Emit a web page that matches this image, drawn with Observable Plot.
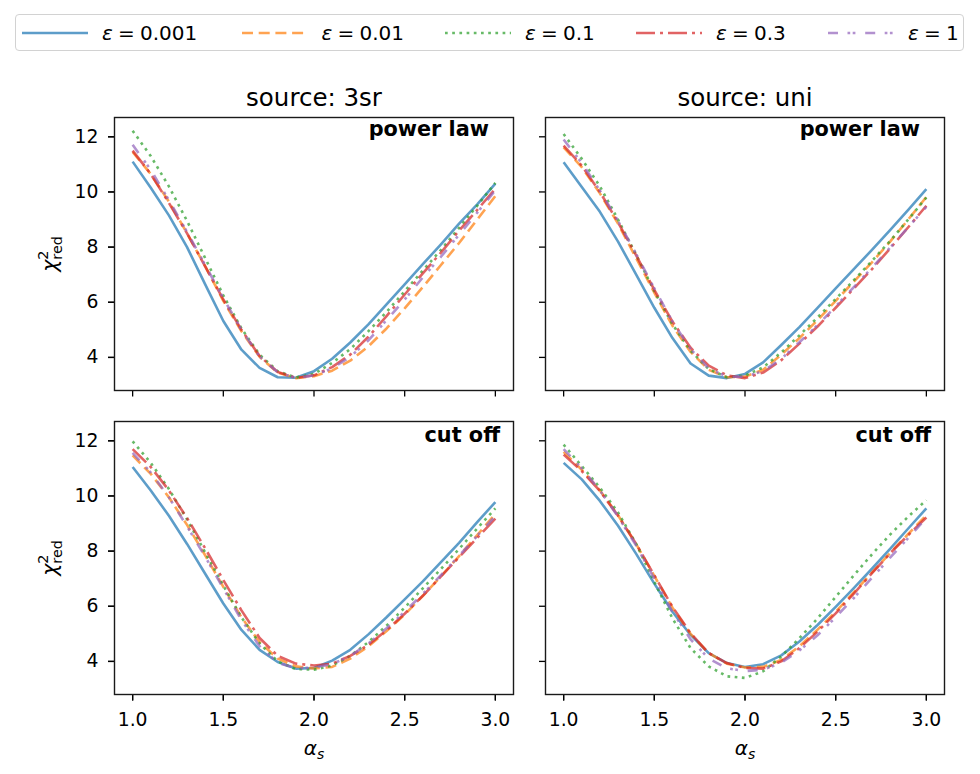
<!DOCTYPE html>
<html><head><meta charset="utf-8">
<script src="https://cdn.jsdelivr.net/npm/d3@7"></script>
<script src="https://cdn.jsdelivr.net/npm/@observablehq/plot@0.6"></script>
<style>
body{margin:0;background:#fff;font-family:"DejaVu Sans",sans-serif;}
#legend{position:relative;width:980px;height:62px;}
#legend .box{position:absolute;left:15px;top:14px;width:949px;height:37px;border:1.3px solid #d2d2d2;border-radius:4px;box-sizing:border-box;}
.item{position:absolute;top:14px;height:37px;display:flex;align-items:center;font-size:20px;color:#000;white-space:nowrap;}
.item svg{margin-right:14px;}
.eq{margin:0 0.26em;}
</style></head><body>
<div id="legend"><div class="box"></div></div>
<div id="chart"></div>
<script>
// ---- data ----
const alphaS = [1.0,1.1,1.2,1.3,1.4,1.5,1.6,1.7,1.8,1.9,2.0,2.1,2.2,2.3,2.4,2.5,2.6,2.7,2.8,2.9,3.0];
const epsilons = ["0.001","0.01","0.1","0.3","1"];
const sources = ["3sr","uni"];
const models = ["power law","cut off"];
const xTicks = [1.0,1.5,2.0,2.5,3.0];
const yTicks = [4,6,8,10,12];

// source 3sr, power law
const sr_pl_e0001 = [11.1,10.15,9.15,8.0,6.65,5.32,4.28,3.62,3.28,3.26,3.5,3.95,4.54,5.2,5.92,6.65,7.38,8.1,8.85,9.55,10.3];
const sr_pl_e001  = [11.45,10.65,9.65,8.5,7.3,6.05,4.95,4.02,3.45,3.25,3.32,3.52,3.88,4.4,5.05,5.78,6.55,7.35,8.15,9.0,9.85];
const sr_pl_e01   = [12.22,11.3,10.2,8.95,7.6,6.25,5.05,4.1,3.5,3.27,3.4,3.8,4.3,4.95,5.65,6.4,7.15,7.9,8.7,9.5,10.33];
const sr_pl_e03   = [11.5,10.65,9.6,8.5,7.3,6.1,5.0,4.05,3.47,3.26,3.35,3.65,4.1,4.75,5.5,6.28,7.05,7.8,8.6,9.35,10.12];
const sr_pl_e1    = [11.71,10.8,9.7,8.55,7.35,6.15,5.0,4.03,3.46,3.25,3.35,3.6,4.02,4.62,5.35,6.1,6.9,7.65,8.45,9.25,10.06];
// source uni, power law
const uni_pl_e0001 = [11.08,10.18,9.28,8.2,7.0,5.8,4.7,3.78,3.34,3.25,3.4,3.82,4.45,5.1,5.8,6.5,7.2,7.9,8.62,9.35,10.1];
const uni_pl_e001  = [11.62,10.9,9.95,8.85,7.6,6.35,5.15,4.2,3.55,3.28,3.3,3.55,4.1,4.7,5.35,6.05,6.75,7.45,8.2,9.0,9.82];
const uni_pl_e01   = [12.1,11.2,10.2,9.0,7.72,6.4,5.2,4.24,3.58,3.28,3.34,3.64,4.18,4.8,5.45,6.12,6.8,7.5,8.22,9.0,9.8];
const uni_pl_e03   = [11.68,10.95,10.0,8.9,7.7,6.45,5.3,4.35,3.7,3.35,3.25,3.45,3.9,4.5,5.12,5.8,6.5,7.2,7.95,8.72,9.5];
const uni_pl_e1    = [11.9,11.05,10.05,8.95,7.75,6.5,5.3,4.3,3.6,3.3,3.3,3.5,3.95,4.55,5.17,5.85,6.55,7.25,7.98,8.72,9.46];
// source 3sr, cut off
const sr_co_e0001 = [11.05,10.2,9.28,8.26,7.18,6.1,5.14,4.42,3.98,3.74,3.76,4.03,4.42,4.98,5.6,6.25,6.9,7.6,8.3,9.05,9.78];
const sr_co_e001  = [11.47,10.8,9.95,8.95,7.85,6.7,5.6,4.7,4.1,3.82,3.74,3.8,4.1,4.55,5.1,5.7,6.38,7.08,7.82,8.58,9.35];
const sr_co_e01   = [11.98,11.2,10.25,9.15,7.95,6.75,5.6,4.65,4.0,3.72,3.7,3.85,4.2,4.7,5.3,5.95,6.65,7.35,8.08,8.82,9.55];
const sr_co_e03   = [11.7,11.05,10.2,9.2,8.1,6.95,5.85,4.85,4.2,3.92,3.85,3.92,4.2,4.6,5.13,5.73,6.38,7.08,7.78,8.48,9.18];
const sr_co_e1    = [11.56,10.85,9.95,8.9,7.8,6.65,5.5,4.55,3.95,3.75,3.78,3.9,4.2,4.65,5.2,5.8,6.45,7.13,7.83,8.55,9.28];
// source uni, cut off
const uni_co_e0001 = [11.2,10.6,9.82,8.92,7.9,6.82,5.8,4.96,4.3,3.94,3.8,3.9,4.22,4.72,5.32,5.98,6.66,7.36,8.08,8.82,9.55];
const uni_co_e001  = [11.6,10.95,10.2,9.3,8.25,7.1,5.95,5.0,4.3,3.92,3.78,3.8,4.05,4.55,5.15,5.8,6.5,7.22,7.93,8.62,9.3];
const uni_co_e01   = [11.86,11.08,10.3,9.4,8.26,6.88,5.56,4.48,3.82,3.46,3.4,3.64,4.18,4.84,5.56,6.34,7.12,7.88,8.6,9.25,9.85];
const uni_co_e03   = [11.5,10.9,10.18,9.28,8.26,7.12,5.98,5.02,4.3,3.94,3.76,3.74,4.0,4.48,5.08,5.74,6.46,7.2,7.92,8.58,9.22];
const uni_co_e1    = [11.7,11.0,10.2,9.25,8.2,7.0,5.8,4.8,4.1,3.75,3.65,3.7,3.95,4.4,4.95,5.6,6.3,7.03,7.76,8.48,9.2];

// ---- styles ----
const colors = ["#1f77b4","#ff7f0e","#2ca02c","#d62728","#9467bd"];
const dashes = [null,"11,5.7","2.7,4.5","19,5,3,5","10,9.5,2.7,2.5,2.7,9.8"];
const lw = 2.6;
const alphaLine = 0.72;

// ---- table ----
const series = {
  "3sr|power law": [sr_pl_e0001,sr_pl_e001,sr_pl_e01,sr_pl_e03,sr_pl_e1],
  "uni|power law": [uni_pl_e0001,uni_pl_e001,uni_pl_e01,uni_pl_e03,uni_pl_e1],
  "3sr|cut off": [sr_co_e0001,sr_co_e001,sr_co_e01,sr_co_e03,sr_co_e1],
  "uni|cut off": [uni_co_e0001,uni_co_e001,uni_co_e01,uni_co_e03,uni_co_e1]
};
const rows = [];
for (const s of sources) for (const m of models) {
  series[s + "|" + m].forEach((arr, k) => {
    arr.forEach((v, i) => rows.push({source: s, model: m, eps: epsilons[k], alpha: alphaS[i], chi: v}));
  });
}

// ---- legend ----
const legend = document.getElementById("legend");
const legendLeft = [22, 241.5, 445, 636, 828];
epsilons.forEach((e, k) => {
  const div = document.createElement("div");
  div.className = "item";
  div.style.left = legendLeft[k] + "px";
  div.innerHTML = `<svg width="66" height="10"><line x1="0" x2="66" y1="5" y2="5" stroke="${colors[k]}" stroke-opacity="${alphaLine}" stroke-width="${lw}" ${dashes[k] ? `stroke-dasharray="${dashes[k]}"` : ""}/></svg><span><i>ε</i><span class="eq">=</span>${e}</span>`;
  legend.appendChild(div);
});

// ---- plot ----
const lineMarks = epsilons.map((e, k) => Plot.line(rows, {
  filter: d => d.eps === e,
  x: "alpha", y: "chi", fx: "source", fy: "model",
  stroke: colors[k], strokeOpacity: alphaLine, strokeWidth: lw,
  strokeDasharray: dashes[k] || undefined, strokeLinecap: "butt", strokeLinejoin: "round"
}));

const topRow = sources.map(s => ({source: s, model: models[0]}));
const bottomRow = sources.map(s => ({source: s, model: models[1]}));
const leftCol = models.map(m => ({source: sources[0], model: m}));

const chart = Plot.plot({
  width: 980, height: 712,
  marginLeft: 113, marginRight: 35, marginTop: 54, marginBottom: 79,
  fx: {domain: sources, paddingInner: 0.0734, paddingOuter: 0, axis: null},
  fy: {domain: models, paddingInner: 0.1007, paddingOuter: 0, axis: null},
  x: {domain: [0.9, 3.1]},
  y: {domain: [2.8, 12.7]},
  style: {fontFamily: "DejaVu Sans", fontSize: "18px", color: "#000", background: "#fff"},
  marks: [
    ...lineMarks,
    Plot.axisX({ticks: xTicks, tickSize: 6.5, tickFormat: () => "", facetAnchor: null, label: null, strokeWidth: 1.3}),
    Plot.axisX({ticks: xTicks, tickSize: 6.5, tickPadding: 11.5, tickFormat: d3.format(".1f"), fontSize: 18.8, label: null, strokeWidth: 1.3}),
    Plot.axisY({ticks: yTicks, tickSize: 6, tickFormat: () => "", facetAnchor: null, label: null, strokeWidth: 1.3}),
    Plot.axisY({ticks: yTicks, tickSize: 6, tickPadding: 10, fontSize: 18.8, label: null, strokeWidth: 1.3}),
    Plot.frame({stroke: "#1a1a1a", strokeWidth: 1.4}),
    Plot.text(topRow, {fx: "source", fy: "model", text: d => "source: " + d.source, frameAnchor: "top", lineAnchor: "bottom", dy: -12, fontSize: 24.5}),
    Plot.text(topRow, {fx: "source", fy: "model", text: "model", frameAnchor: "top-right", textAnchor: "end", lineAnchor: "bottom", dx: -24.5, dy: 18.8, fontSize: 20.8, fontWeight: "bold"}),
    Plot.text(bottomRow, {fx: "source", fy: "model", text: "model", frameAnchor: "top-right", textAnchor: "end", lineAnchor: "bottom", dx: -13.5, dy: 20.2, fontSize: 20.8, fontWeight: "bold"}),
    Plot.text(leftCol, {fx: "source", fy: "model", text: () => "@@CHI@@", frameAnchor: "left", rotate: -90, dx: -58, lineAnchor: "bottom", textAnchor: "middle", fontSize: 20.5}),
    Plot.text(bottomRow, {fx: "source", fy: "model", text: () => "@@ALPHA@@", frameAnchor: "bottom", lineAnchor: "bottom", dy: 60, fontSize: 20})
  ]
});
document.getElementById("chart").appendChild(chart);

// rich-text labels (super/subscripts)
const NS = "http://www.w3.org/2000/svg";
function tspan(txt, attrs) {
  const t = document.createElementNS(NS, "tspan");
  for (const k in attrs) t.setAttribute(k, attrs[k]);
  t.textContent = txt;
  return t;
}
chart.querySelectorAll("text").forEach(t => {
  if (t.textContent === "@@CHI@@") {
    t.textContent = "";
    t.appendChild(tspan("χ", {"font-style": "italic"}));
    t.appendChild(tspan("2", {"font-size": "70%", dy: "-0.62em"}));
    t.appendChild(tspan("red", {"font-size": "70%", dx: "-0.636em", dy: "0.98em"}));
  } else if (t.textContent === "@@ALPHA@@") {
    t.textContent = "";
    t.appendChild(tspan("α", {"font-style": "italic"}));
    t.appendChild(tspan("s", {"font-style": "italic", "font-size": "70%", dy: "0.3em"}));
  }
});
</script>
</body></html>
